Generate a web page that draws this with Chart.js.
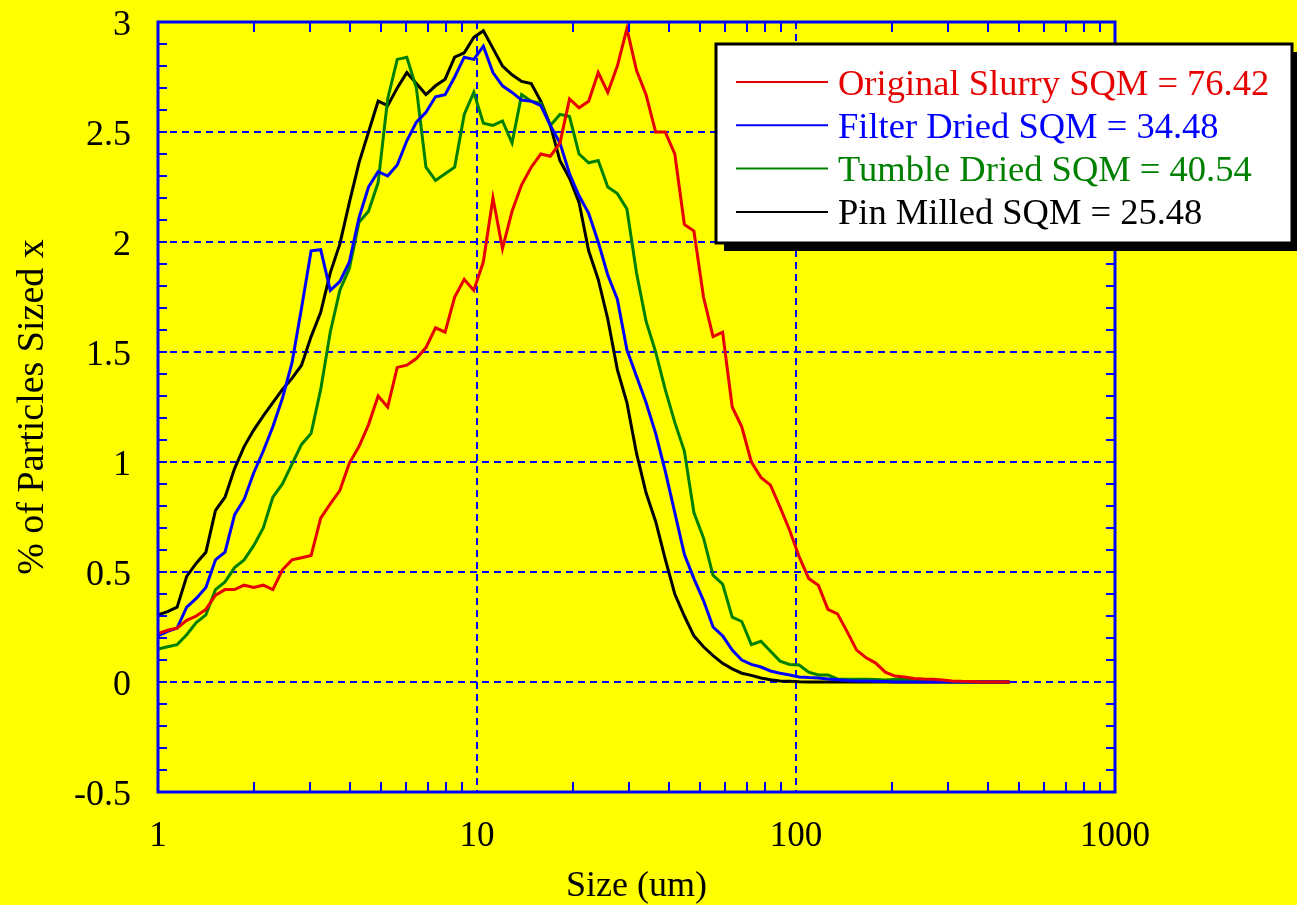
<!DOCTYPE html>
<html>
<head>
<meta charset="utf-8">
<title>Particle size distribution</title>
<script src="https://cdn.jsdelivr.net/npm/chart.js@4.4.1/dist/chart.umd.min.js"></script>
<style>
  html, body { margin: 0; padding: 0; background: #ffff00; }
  canvas { display: block; }
</style>
</head>
<body>
<canvas id="psd" width="1297" height="905"></canvas>
<script>
// Size channels (um), one per analyser bin
const SIZES = [
  1.000, 1.072, 1.148, 1.230, 1.318, 1.413, 1.514, 1.622, 1.738, 1.862,
  1.995, 2.138, 2.291, 2.455, 2.630, 2.818, 3.020, 3.236, 3.467, 3.715,
  3.981, 4.266, 4.571, 4.898, 5.248, 5.623, 6.026, 6.457, 6.918, 7.413,
  7.943, 8.511, 9.120, 9.772, 10.47, 11.22, 12.02, 12.88, 13.80, 14.79,
  15.85, 16.98, 18.20, 19.50, 20.89, 22.39, 23.99, 25.70, 27.54, 29.51,
  31.62, 33.88, 36.31, 38.90, 41.69, 44.67, 47.86, 51.29, 54.95, 58.88,
  63.10, 67.61, 72.44, 77.62, 83.18, 89.13, 95.50, 102.3, 109.6, 117.5,
  125.9, 134.9, 144.5, 154.9, 166.0, 177.8, 190.5, 204.2, 218.8, 234.4,
  251.2, 269.2, 288.4, 309.0, 331.1, 354.8, 380.2, 407.4, 436.5, 467.7
];

// % of particles in each channel
const ORIGINAL_SLURRY = [
  0.22, 0.235, 0.245, 0.28, 0.30, 0.33, 0.395, 0.42, 0.42, 0.44,
  0.43, 0.44, 0.42, 0.51, 0.555, 0.565, 0.575, 0.745, 0.81, 0.87,
  0.995, 1.07, 1.17, 1.30, 1.25, 1.43, 1.44, 1.47, 1.52, 1.61,
  1.59, 1.75, 1.83, 1.78, 1.91, 2.20, 1.97, 2.14, 2.26, 2.34,
  2.40, 2.39, 2.45, 2.65, 2.61, 2.64, 2.77, 2.68, 2.80, 2.97,
  2.78, 2.67, 2.50, 2.50, 2.40, 2.08, 2.05, 1.75, 1.57, 1.59,
  1.25, 1.16, 1.00, 0.93, 0.895, 0.795, 0.69, 0.57, 0.47, 0.44,
  0.33, 0.31, 0.23, 0.145, 0.11, 0.086, 0.045, 0.027, 0.023, 0.016,
  0.014, 0.013, 0.009, 0.005, 0.003, 0.002, 0, 0, 0, 0
];
const FILTER_DRIED = [
  0.21, 0.23, 0.245, 0.34, 0.38, 0.43, 0.555, 0.59, 0.76, 0.83,
  0.95, 1.05, 1.16, 1.29, 1.45, 1.70, 1.96, 1.965, 1.78, 1.82,
  1.91, 2.11, 2.25, 2.32, 2.30, 2.35, 2.46, 2.545, 2.59, 2.66,
  2.67, 2.75, 2.84, 2.83, 2.89, 2.77, 2.71, 2.68, 2.645, 2.64,
  2.62, 2.53, 2.45, 2.31, 2.21, 2.13, 2.00, 1.85, 1.74, 1.51,
  1.39, 1.27, 1.13, 0.96, 0.77, 0.58, 0.47, 0.37, 0.25, 0.21,
  0.145, 0.10, 0.08, 0.068, 0.05, 0.04, 0.032, 0.023, 0.02, 0.018,
  0.014, 0.01, 0.007, 0.005, 0.004, 0.003, 0.002, 0, 0, 0,
  0, 0, 0, 0, 0, 0, 0, 0, 0, 0
];
const TUMBLE_DRIED = [
  0.15, 0.16, 0.17, 0.215, 0.27, 0.305, 0.42, 0.455, 0.52, 0.555,
  0.62, 0.70, 0.84, 0.90, 0.99, 1.08, 1.13, 1.33, 1.59, 1.78,
  1.88, 2.09, 2.14, 2.27, 2.65, 2.83, 2.84, 2.70, 2.34, 2.28,
  2.31, 2.34, 2.58, 2.68, 2.54, 2.53, 2.55, 2.45, 2.67, 2.64,
  2.63, 2.53, 2.58, 2.57, 2.40, 2.36, 2.37, 2.25, 2.22, 2.15,
  1.86, 1.64, 1.50, 1.33, 1.18, 1.05, 0.77, 0.655, 0.485, 0.445,
  0.295, 0.275, 0.17, 0.185, 0.14, 0.095, 0.08, 0.077, 0.045, 0.032,
  0.032, 0.014, 0.013, 0.013, 0.012, 0.011, 0.009, 0.011, 0.012, 0.008,
  0.006, 0.004, 0.002, 0, 0, 0, 0, 0, 0, 0
];
const PIN_MILLED = [
  0.305, 0.32, 0.34, 0.48, 0.54, 0.59, 0.78, 0.84, 0.97, 1.07,
  1.145, 1.21, 1.27, 1.33, 1.38, 1.44, 1.57, 1.68, 1.86, 1.99,
  2.18, 2.36, 2.50, 2.64, 2.62, 2.70, 2.77, 2.72, 2.67, 2.71,
  2.74, 2.84, 2.86, 2.93, 2.96, 2.88, 2.80, 2.76, 2.73, 2.72,
  2.64, 2.53, 2.37, 2.29, 2.18, 1.96, 1.83, 1.65, 1.42, 1.27,
  1.04, 0.86, 0.73, 0.56, 0.40, 0.30, 0.21, 0.16, 0.12, 0.085,
  0.06, 0.04, 0.03, 0.018, 0.01, 0.005, 0.003, 0.001, 0, 0,
  0, 0, 0, 0, 0, 0, 0, 0, 0, 0,
  0, 0, 0, 0, 0, 0, 0, 0, 0, 0
];

const SERIES_NAMES  = [
  'Original Slurry SQM = 76.42',
  'Filter Dried SQM = 34.48',
  'Tumble Dried SQM = 40.54',
  'Pin Milled SQM = 25.48'
];
const SERIES_VALUES = [ORIGINAL_SLURRY, FILTER_DRIED, TUMBLE_DRIED, PIN_MILLED];
const SERIES_COLORS = ['#e60000', '#0000ff', '#008000', '#000000'];

const X_TICKS = [1, 10, 100, 1000];
const Y_MIN = -0.5, Y_MAX = 3, Y_STEP = 0.5;

const AXIS_BLUE = '#0000ff';
const SERIF = '"Liberation Serif", "Times New Roman", serif';

const isDecade = v => Math.abs(Math.log10(v) - Math.round(Math.log10(v))) < 1e-9;

// yellow page, blue frame with inside minor ticks, boxed legend with shadow
const paperPlugin = {
  id: 'paper',
  beforeDraw(chart) {
    const { ctx, width, height } = chart;
    ctx.save();
    ctx.fillStyle = '#ffff00';
    ctx.fillRect(0, 0, width, height);
    ctx.restore();
  },
  afterDatasetsDraw(chart) {
    const { ctx, chartArea: a, scales: { x, y } } = chart;
    ctx.save();
    ctx.strokeStyle = AXIS_BLUE;
    ctx.lineWidth = 2;
    ctx.beginPath();
    for (let d = 1; d < 1000; d *= 10) {
      for (let m = 2; m <= 9; m++) {
        const px = Math.round(x.getPixelForValue(m * d));
        ctx.moveTo(px, a.bottom); ctx.lineTo(px, a.bottom - 10);
        ctx.moveTo(px, a.top);    ctx.lineTo(px, a.top + 10);
      }
    }
    for (let i = Y_MIN * 10; i <= Y_MAX * 10; i++) {
      const py = Math.round(y.getPixelForValue(i / 10));
      ctx.moveTo(a.left, py);  ctx.lineTo(a.left + 9, py);
      ctx.moveTo(a.right, py); ctx.lineTo(a.right - 9, py);
    }
    ctx.stroke();
    ctx.lineWidth = 3;
    ctx.strokeRect(a.left, a.top, a.right - a.left, a.bottom - a.top);
    ctx.restore();
  },
  afterDraw(chart) {
    const { ctx } = chart;
    const bx = 716, by = 44, bw = 576, bh = 199;
    ctx.save();
    ctx.fillStyle = '#000';
    ctx.fillRect(bx + 8, by + 8, bw, bh);
    ctx.fillStyle = '#fff';
    ctx.fillRect(bx, by, bw, bh);
    ctx.lineWidth = 3;
    ctx.strokeStyle = '#000';
    ctx.strokeRect(bx, by, bw, bh);

    ctx.font = '36.5px ' + SERIF;
    ctx.textBaseline = 'middle';
    ctx.textAlign = 'left';
    chart.data.datasets.forEach((ds, i) => {
      const rowY = by + 41 + i * 43.3;
      ctx.strokeStyle = ds.borderColor;
      ctx.lineWidth = 2;
      ctx.beginPath();
      ctx.moveTo(bx + 20, rowY - 3);
      ctx.lineTo(bx + 112, rowY - 3);
      ctx.stroke();
      ctx.fillStyle = ds.borderColor;
      ctx.fillText(ds.label, bx + 122, rowY);
    });
    ctx.restore();
  }
};

new Chart(document.getElementById('psd'), {
  type: 'line',
  data: {
    datasets: SERIES_NAMES.map((name, i) => ({
      label: name,
      data: SIZES.map((s, j) => ({ x: s, y: SERIES_VALUES[i][j] })),
      borderColor: SERIES_COLORS[i],
      backgroundColor: SERIES_COLORS[i],
      borderWidth: 3,
      pointRadius: 0,
      tension: 0,
      fill: false
    }))
  },
  options: {
    responsive: false,
    animation: false,
    devicePixelRatio: 1,
    layout: { padding: { top: 0, right: 182, bottom: 0, left: 0 } },
    plugins: { legend: { display: false }, tooltip: { enabled: false } },
    scales: {
      x: {
        type: 'logarithmic',
        min: 1,
        max: 1000,
        afterFit(s) { s.height = 113; },
        grid: {
          color: c => (c.tick && isDecade(c.tick.value)) ? AXIS_BLUE : 'transparent',
          lineWidth: 2,
          drawTicks: false
        },
        border: { display: false, dash: [7, 5] },
        ticks: {
          autoSkip: false,
          maxRotation: 0,
          color: '#000',
          padding: 27,
          font: { family: SERIF, size: 35, lineHeight: 1 },
          callback: v => X_TICKS.includes(v) ? String(v) : ''
        },
        title: {
          display: true,
          text: 'Size (um)',
          color: '#000',
          font: { family: SERIF, size: 36, lineHeight: 1 },
          padding: { top: 0, bottom: 0 }
        }
      },
      y: {
        min: Y_MIN,
        max: Y_MAX,
        afterFit(s) {
          s.width = 158;
          s.paddingTop = 22;
          s.paddingBottom = 0;
        },
        grid: { color: AXIS_BLUE, lineWidth: 2, drawTicks: false },
        border: { display: false, dash: [7, 5] },
        ticks: {
          stepSize: Y_STEP,
          color: '#000',
          padding: 27,
          labelOffset: 4,
          font: { family: SERIF, size: 36, lineHeight: 1 },
          callback: v => String(v)
        },
        title: {
          display: true,
          text: '% of Particles Sized x',
          color: '#000',
          font: { family: SERIF, size: 38, lineHeight: 1 },
          padding: { top: 14, bottom: 0 }
        }
      }
    }
  },
  plugins: [paperPlugin]
});
</script>
</body>
</html>
